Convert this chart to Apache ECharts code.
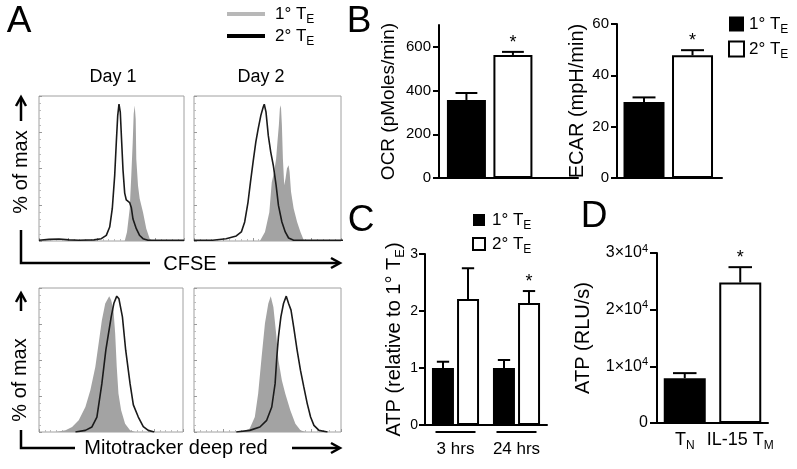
<!DOCTYPE html>
<html><head><meta charset="utf-8">
<script src="https://cdn.jsdelivr.net/npm/echarts@6/dist/echarts.min.js"></script>
<style>html,body{margin:0;padding:0;background:#fff}#c{width:797px;height:469px}</style>
</head><body><div id="c"></div>
<script>
const FONT = '"Liberation Sans", Arial, Helvetica, sans-serif';

// ---------- Panel A: flow histograms, [channel (arb. units), % of max] ----------
const cfseDay1Primary = [[85.7,0],[88,6.5],[90.7,23.5],[92.3,47.8],[93.7,72],[94.7,93],[95.7,99],[96.7,89],[97.3,60],[99,40.5],[100.7,30.8],[104,21],[107.3,9],[110.7,1.7],[114,0]];
const cfseDay1Secondary = [[0,0.5],[10,1.2],[20,1.5],[30,0.8],[40,0.5],[55,0.8],[62.3,1.7],[67.3,4.1],[70.7,10.2],[73.3,23.8],[75.7,48],[77.3,72],[78.7,91.5],[80,100],[81.3,94],[82.7,72],[84,52],[85.7,35],[87.3,30],[90.7,28],[92.3,24.5],[94,16],[97.3,9],[100.7,4],[104,1.7],[109,0.5],[145,0.5]];
const cfseDay2Primary = [[65,0],[70,6.6],[74.3,21],[76.7,43],[79,50.5],[81,60.2],[82.3,72.4],[83.7,84.6],[84.7,96.8],[85.7,99.3],[86.7,84.6],[87.7,60.2],[89,40.7],[90.3,45.6],[91.7,53],[93.3,55.4],[94.3,50.5],[95.7,36],[98.3,23.7],[101.7,13.9],[105,6.6],[108.3,0.5],[111.7,0]];
const cfseDay2Secondary = [[0,0.5],[18.3,0.5],[31.7,1.7],[41.7,3.7],[46.7,6.6],[50,13.9],[53.3,28.5],[55.7,43],[58.3,57.8],[61,72.4],[63.3,82],[66,92],[68.3,98],[69.3,100],[71,94.4],[73.3,77],[75.7,65],[78.3,55],[81,40.7],[83.3,26],[86.7,13.9],[90,6.6],[93.3,2.2],[98.3,0.5],[147,0.5]];
const mitoDay1Primary = [[16.7,0],[26.7,1.2],[33.3,3.7],[40,8.6],[46.7,18.4],[51.7,30.7],[56.7,47.9],[60,65],[63.3,82.3],[66.7,94.6],[70.7,100],[72.7,97],[75,89.7],[76.7,72.5],[78.3,47.9],[80,28.3],[82.7,16],[86.7,6.1],[91.7,1.2],[96.7,0]];
const mitoDay1Secondary = [[36.7,0],[46.7,1.2],[53.3,3.7],[58.3,11],[63.3,35.6],[67.3,60.2],[72.7,84.8],[75.5,95],[78.3,100],[80.5,98],[84,84.8],[87.3,60.2],[91.7,35.6],[95,20],[100,11],[105,4],[110,1.2],[116,0]];
const mitoDay2Primary = [[48.3,0],[55,2.5],[60,11],[63.3,28.3],[66.7,55.3],[70,80],[73.3,94.6],[75.7,100],[78.3,92],[81,72.5],[83.3,52.8],[86.7,38],[90,28.3],[95,16],[100,6.1],[105,1.2],[110,0]];
const mitoDay2Secondary = [[41.7,0],[55,1.2],[65,3.7],[71.7,8.6],[76.7,18.4],[80,35.6],[81.7,55.3],[83.3,70],[85.7,84.8],[88.3,94.6],[91,100],[93.3,94.6],[95.7,89.7],[98.3,77.4],[101.7,60.2],[105,45.5],[108.3,33.2],[111.7,20.9],[115,11],[118.3,4.9],[123.3,1.2],[131.7,0]];

// ---------- Panel B ----------
const ocrMean = [357, 563];
const ocrSem  = [32, 14];
const ocrSig  = [0, 1];
const ecarMean = [29.6, 47.8];
const ecarSem  = [1.8, 2.0];
const ecarSig  = [0, 1];
const ocrTicks = [0, 200, 400, 600];

// ---------- Panel C ----------
const atpGroups = ['3 hrs', '24 hrs'];
const atpPrimaryMean = [1.0, 1.0];
const atpPrimarySem  = [0.11, 0.14];
const atpSecondaryMean = [2.21, 2.14];
const atpSecondarySem  = [0.54, 0.21];
const atpSecondarySig  = [0, 1];

// ---------- Panel D ----------
const dCats = ['T_N', 'IL-15 T_M'];
const dMean = [7900, 24800];
const dSem  = [900, 2700];
const dSig  = [0, 1];

// ---------- helpers ----------
function subText(s, a, b) {
  return '{' + a + '|' + s.replace(/_(\S)/g, function (m, c) { return '}{' + b + '|' + c + '}{' + a + '|'; }) + '}';
}
function errRender(barW, offset) {
  return function (params, api) {
    const x = api.value(0), m = api.value(1), e = api.value(2), sig = api.value(3);
    const p0 = api.coord([x, m]);
    const p1 = api.coord([x, m + e]);
    const cx = p0[0] + offset;
    const hw = barW * 0.28;
    const children = [
      {type: 'line', shape: {x1: cx, y1: p0[1], x2: cx, y2: p1[1]}, style: {stroke: '#000', lineWidth: 2}},
      {type: 'line', shape: {x1: cx - hw, y1: p1[1], x2: cx + hw, y2: p1[1]}, style: {stroke: '#000', lineWidth: 2}}
    ];
    if (sig) children.push({type: 'text', style: {text: '*', x: cx, y: p1[1] - 9, align: 'center', verticalAlign: 'middle', fontSize: 18, fontFamily: FONT, fill: '#000'}});
    return {type: 'group', children: children};
  };
}

const histPanels = [
  {box: {left: 39, top: 96, width: 145, height: 145}, p: cfseDay1Primary, s: cfseDay1Secondary},
  {box: {left: 194, top: 96, width: 147, height: 145}, p: cfseDay2Primary, s: cfseDay2Secondary},
  {box: {left: 39, top: 288, width: 144, height: 144}, p: mitoDay1Primary, s: mitoDay1Secondary},
  {box: {left: 194, top: 288, width: 147, height: 144}, p: mitoDay2Primary, s: mitoDay2Secondary}
];

const grids = [], xAxes = [], yAxes = [], series = [];
histPanels.forEach(function (h, i) {
  grids.push(Object.assign({show: true, borderColor: '#a0a0a0', borderWidth: 1, backgroundColor: '#fff'}, h.box));
  xAxes.push({gridIndex: i, type: 'value', min: 0, max: 145, interval: 29,
    axisLine: {show: false}, axisLabel: {show: false}, splitLine: {show: false},
    axisTick: {show: true, inside: true, length: 3, lineStyle: {color: '#999'}},
    minorTick: {show: true, splitNumber: 5, length: 2, lineStyle: {color: '#bbb'}}});
  yAxes.push({gridIndex: i, type: 'value', min: 0, max: 106, interval: 26.5,
    axisLine: {show: false}, axisLabel: {show: false}, splitLine: {show: false},
    axisTick: {show: true, inside: true, length: 3, lineStyle: {color: '#999'}},
    minorTick: {show: true, splitNumber: 5, length: 2, lineStyle: {color: '#bbb'}}});
  series.push({type: 'line', name: 'hist 1° T_E', xAxisIndex: i, yAxisIndex: i, data: h.p, symbol: 'none',
    lineStyle: {width: 0}, itemStyle: {color: '#a3a3a3'}, areaStyle: {color: '#a3a3a3', opacity: 1}, z: 2, silent: true});
  series.push({type: 'line', name: 'hist 2° T_E', xAxisIndex: i, yAxisIndex: i, data: h.s, symbol: 'none',
    lineStyle: {width: 1.6, color: '#1a1a1a'}, itemStyle: {color: '#000'}, z: 3, silent: true});
});

function axisBlack() { return {show: true, onZero: false, lineStyle: {color: '#000', width: 2}}; }
function tickBlack(len) { return {show: true, length: len || 6, lineStyle: {color: '#000', width: 2}}; }
function tickLabel(size, margin) { return {show: true, color: '#000', fontSize: size || 15, fontFamily: FONT, margin: margin || 8}; }
const nameStyle = {color: '#000', fontSize: 20, fontFamily: FONT};

// B: OCR (grid 4)
grids.push({left: 439, top: 25, width: 139, height: 153});
xAxes.push({gridIndex: 4, type: 'value', min: -0.59, max: 2.4, axisLine: axisBlack(), axisTick: {show: false}, axisLabel: {show: false}, splitLine: {show: false}});
yAxes.push({gridIndex: 4, type: 'value', min: 0, max: 700, axisLine: axisBlack(),
  axisTick: Object.assign(tickBlack(), {customValues: ocrTicks}), axisLabel: Object.assign(tickLabel(), {customValues: ocrTicks}),
  splitLine: {show: false}, name: 'OCR (pMoles/min)', nameLocation: 'middle', nameRotate: 90, nameGap: 41, nameMoveOverlap: false,
  nameTextStyle: Object.assign({}, nameStyle, {fontSize: 19})});
// B: ECAR (grid 5)
grids.push({left: 617, top: 24, width: 105, height: 154});
xAxes.push({gridIndex: 5, type: 'value', min: -0.557, max: 1.608, axisLine: axisBlack(), axisTick: {show: false}, axisLabel: {show: false}, splitLine: {show: false}});
yAxes.push({gridIndex: 5, type: 'value', min: 0, max: 60, interval: 20, axisLine: axisBlack(),
  axisTick: tickBlack(), axisLabel: tickLabel(), splitLine: {show: false},
  name: 'ECAR (mpH/min)', nameLocation: 'middle', nameRotate: 90, nameGap: 30, nameMoveOverlap: false, nameTextStyle: nameStyle});
// C (grid 6)
grids.push({left: 425, top: 254, width: 122, height: 171});
xAxes.push({gridIndex: 6, type: 'category', data: atpGroups, axisLine: axisBlack(), axisTick: {show: false},
  axisLabel: {interval: 0, color: '#000', fontSize: 17, fontFamily: FONT, margin: 16}, splitLine: {show: false}});
yAxes.push({gridIndex: 6, type: 'value', min: 0, max: 3, interval: 1, axisLine: axisBlack(),
  axisTick: tickBlack(), axisLabel: tickLabel(14, 7), splitLine: {show: false},
  name: subText('ATP (relative to 1° T_E)', 'n', 's'), nameLocation: 'middle', nameRotate: 90, nameGap: 21, nameMoveOverlap: false,
  nameTextStyle: Object.assign({rich: {n: nameStyle, s: {color: '#000', fontSize: 13, fontFamily: FONT, padding: [12, 0, 0, 0], lineHeight: 14}}}, nameStyle)});
// D (grid 7)
grids.push({left: 657, top: 253, width: 111, height: 170});
xAxes.push({gridIndex: 7, type: 'category', data: dCats, axisLine: axisBlack(), axisTick: {show: false},
  axisLabel: {interval: 0, margin: 8, formatter: function (v) { return subText(v, 'a', 's'); },
    rich: {a: {color: '#000', fontSize: 18, fontFamily: FONT}, s: {color: '#000', fontSize: 12, fontFamily: FONT, padding: [12, 0, 0, 0], lineHeight: 13}}},
  splitLine: {show: false}});
yAxes.push({gridIndex: 7, type: 'value', min: 0, max: 30000, interval: 10000, axisLine: axisBlack(),
  axisTick: tickBlack(7),
  axisLabel: {show: true, margin: 9, formatter: function (v) { return v === 0 ? '{a|0}' : '{a|' + (v / 10000) + '×10}{p|4}'; },
    rich: {a: {color: '#000', fontSize: 16, fontFamily: FONT}, p: {color: '#000', fontSize: 11, fontFamily: FONT, padding: [0, 0, 9, 0], lineHeight: 11}}},
  splitLine: {show: false}, name: 'ATP (RLU/s)', nameLocation: 'middle', nameRotate: 90, nameGap: 64, nameMoveOverlap: false, nameTextStyle: nameStyle});

const blackBar = {color: '#000'};
const whiteBar = {color: '#fff', borderColor: '#000', borderWidth: 2};

// B bars
series.push({type: 'bar', name: '1° T_E', xAxisIndex: 4, yAxisIndex: 4, barWidth: 39, barGap: '-100%', data: [[0, ocrMean[0]]], itemStyle: blackBar});
series.push({type: 'bar', name: '2° T_E', xAxisIndex: 4, yAxisIndex: 4, barWidth: 39, barGap: '-100%', data: [[1, ocrMean[1]]], itemStyle: whiteBar});
series.push({type: 'custom', xAxisIndex: 4, yAxisIndex: 4, encode: {x: 0, y: 1}, renderItem: errRender(39, 0), z: 5,
  data: ocrMean.map(function (m, i) { return [i, m, ocrSem[i], ocrSig[i]]; })});
series.push({type: 'bar', name: '1° T_E', xAxisIndex: 5, yAxisIndex: 5, barWidth: 41, barGap: '-100%', data: [[0, ecarMean[0]]], itemStyle: blackBar});
series.push({type: 'bar', name: '2° T_E', xAxisIndex: 5, yAxisIndex: 5, barWidth: 41, barGap: '-100%', data: [[1, ecarMean[1]]], itemStyle: whiteBar});
series.push({type: 'custom', xAxisIndex: 5, yAxisIndex: 5, encode: {x: 0, y: 1}, renderItem: errRender(41, 0), z: 5,
  data: ecarMean.map(function (m, i) { return [i, m, ecarSem[i], ecarSig[i]]; })});
// C bars
series.push({type: 'bar', name: '1° T_E', xAxisIndex: 6, yAxisIndex: 6, barWidth: 22, barGap: '14%', data: atpPrimaryMean, itemStyle: blackBar});
series.push({type: 'bar', name: '2° T_E', xAxisIndex: 6, yAxisIndex: 6, barWidth: 22, barGap: '14%', data: atpSecondaryMean, itemStyle: whiteBar});
series.push({type: 'custom', xAxisIndex: 6, yAxisIndex: 6, encode: {x: 0, y: 1}, renderItem: errRender(22, -12.5), z: 5,
  data: atpPrimaryMean.map(function (m, i) { return [i, m, atpPrimarySem[i], 0]; })});
series.push({type: 'custom', xAxisIndex: 6, yAxisIndex: 6, encode: {x: 0, y: 1}, renderItem: errRender(22, 12.5), z: 5,
  data: atpSecondaryMean.map(function (m, i) { return [i, m, atpSecondarySem[i], atpSecondarySig[i]]; })});
series.push({type: 'custom', xAxisIndex: 6, yAxisIndex: 6, encode: {x: 0, y: 1}, z: 5,
  data: atpGroups.map(function (g, i) { return [i, 0]; }),
  renderItem: function (params, api) {
    const p = api.coord([api.value(0), 0]);
    return {type: 'line', shape: {x1: p[0] - 20, y1: p[1] + 7, x2: p[0] + 20, y2: p[1] + 7}, style: {stroke: '#000', lineWidth: 2}};
  }});
// D bars
series.push({type: 'bar', xAxisIndex: 7, yAxisIndex: 7, barWidth: 42,
  data: dMean.map(function (v, i) { return {value: v, itemStyle: i === 0 ? blackBar : whiteBar}; })});
series.push({type: 'custom', xAxisIndex: 7, yAxisIndex: 7, encode: {x: 0, y: 1}, renderItem: errRender(42, 0), z: 5,
  data: dMean.map(function (m, i) { return [i, m, dSem[i], dSig[i]]; })});

const legendRich = {t: {color: '#000', fontSize: 17, fontFamily: FONT, lineHeight: 20}, s: {color: '#000', fontSize: 12, fontFamily: FONT, padding: [12, 0, 0, 0], lineHeight: 13}};
function legendFmt(name) { return subText(name.replace('hist ', ''), 't', 's'); }

const legends = [
  {left: 227, top: 2, orient: 'vertical', padding: 0, itemGap: -2, itemWidth: 38, itemHeight: 4, selectedMode: false,
   data: [{name: 'hist 1° T_E', icon: 'rect', itemStyle: {color: '#b8b8b8'}}, {name: 'hist 2° T_E', icon: 'rect', itemStyle: {color: '#000'}}],
   formatter: legendFmt, textStyle: {rich: legendRich, padding: [0, 0, 0, 5]}},
  {left: 728, top: 12, orient: 'vertical', padding: 0, itemGap: 1, itemWidth: 15, itemHeight: 15, selectedMode: false,
   data: [{name: '1° T_E', icon: 'rect'}, {name: '2° T_E', icon: 'rect'}],
   formatter: legendFmt, textStyle: {rich: legendRich}},
  {left: 472, top: 208, orient: 'vertical', padding: 0, itemGap: 0, itemWidth: 12, itemHeight: 12, selectedMode: false,
   data: [{name: '1° T_E', icon: 'rect'}, {name: '2° T_E', icon: 'rect'}],
   formatter: legendFmt, textStyle: {rich: legendRich, padding: [0, 0, 0, 2]}}
];

function txt(text, x, y, size, rot) {
  return {type: 'text', x: x, y: y, rotation: rot || 0, style: {text: text, fontSize: size, fontFamily: FONT, fill: '#000', align: 'center', verticalAlign: 'middle'}};
}
function pl(points) { return {type: 'polyline', shape: {points: points}, style: {stroke: '#000', lineWidth: 2.5, fill: null}}; }

const graphics = [
  txt('A', 19, 22, 37), txt('B', 359, 22, 37), txt('C', 361, 221, 37), txt('D', 594, 217, 37),
  txt('Day 1', 113, 77, 18), txt('Day 2', 261, 77, 18),
  txt('% of max', 21, 172, 20, Math.PI / 2), txt('% of max', 20, 380, 20, Math.PI / 2),
  txt('CFSE', 190, 264, 20), txt('Mitotracker deep red', 176, 448, 20),
  pl([[21, 121], [21, 98]]), pl([[16, 106], [21, 97], [26, 106]]),
  pl([[21, 230], [21, 263], [150, 263]]), pl([[228, 263], [339, 263]]), pl([[331, 258], [340, 263], [331, 268]]),
  pl([[21, 311], [21, 294]]), pl([[16, 302], [21, 293], [26, 302]]),
  pl([[21, 430], [21, 448], [75, 448]]), pl([[292, 448], [339, 448]]), pl([[331, 443], [340, 448], [331, 453]])
];

const chart = echarts.init(document.getElementById('c'), null, {renderer: 'canvas'});
chart.setOption({
  animation: false,
  backgroundColor: '#fff',
  textStyle: {fontFamily: FONT},
  grid: grids, xAxis: xAxes, yAxis: yAxes, series: series,
  legend: legends,
  graphic: graphics
});
</script></body></html>
